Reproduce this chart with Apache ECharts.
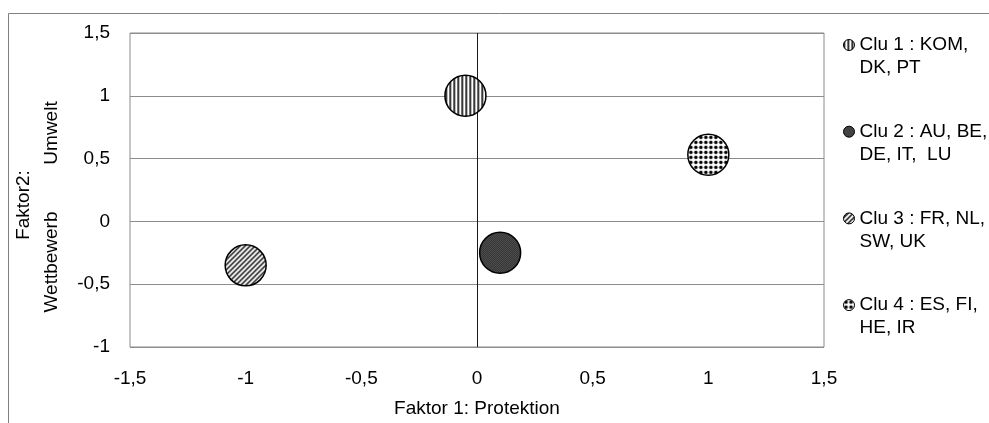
<!DOCTYPE html>
<html>
<head>
<meta charset="utf-8">
<script src="https://cdn.jsdelivr.net/npm/echarts@6/dist/echarts.min.js"></script>
<style>
html,body{margin:0;padding:0;background:#fff;}
#chart{width:989px;height:423px;}
</style>
</head>
<body>
<div id="chart"></div>
<script>
// ---- data ----
const clusterNames = ['Clu 1 : KOM,\nDK, PT', 'Clu 2 : AU, BE,\nDE, IT,  LU', 'Clu 3 : FR, NL,\nSW, UK', 'Clu 4 : ES, FI,\nHE, IR'];
const factor1 = [-0.05, 0.1, -1.0, 1.0];
const factor2 = [1.0, -0.25, -0.35, 0.53];
const xAxisTitle = 'Faktor 1: Protektion';
const yAxisTitleLine1 = 'Faktor2:';
const yAxisTitleLow = 'Wettbewerb';
const yAxisTitleHigh = 'Umwelt';

const SYMBOL_SIZE = 41;

// ---- patterns ----
function mk(w, h, draw, scale) {
  const c = document.createElement('canvas');
  c.width = w; c.height = h;
  const g = c.getContext('2d');
  draw(g, w, h);
  return { image: c, repeat: 'repeat', scaleX: scale, scaleY: scale };
}
function drawVertical(g) {
  g.fillStyle = '#fff'; g.fillRect(0, 0, 4, 4);
  g.fillStyle = '#000'; g.fillRect(0, 0, 1.6, 4);
}
function drawDark(g) {
  g.fillStyle = '#5a5a5a'; g.fillRect(0, 0, 2, 2);
  g.fillStyle = '#2a2a2a'; g.fillRect(0, 0, 1, 1); g.fillRect(1, 1, 1, 1);
}
function drawDiag(g) {
  g.fillStyle = '#fff'; g.fillRect(0, 0, 5, 5);
  g.strokeStyle = '#000'; g.lineWidth = 1.4;
  g.beginPath();
  g.moveTo(-1, 6); g.lineTo(6, -1);
  g.moveTo(-1, 1); g.lineTo(1, -1);
  g.moveTo(4, 6); g.lineTo(6, 4);
  g.stroke();
}
function drawDots(g) {
  g.fillStyle = '#fff'; g.fillRect(0, 0, 5, 5);
  g.fillStyle = '#000';
  g.beginPath(); g.arc(2.5, 2.5, 1.75, 0, Math.PI * 2); g.fill();
}
const drawers = [[drawVertical, 4], [drawDark, 2], [drawDiag, 5], [drawDots, 5]];
const symScale = 2 / SYMBOL_SIZE;
const seriesPatterns = drawers.map(([d, s]) => mk(s, s, d, symScale));
const legendPatterns = drawers.map(([d, s]) => mk(s, s, d, 1));

const FONT = 'Arial, "Liberation Sans", sans-serif';
const FS = 19;
const fmt = (v) => String(v).replace('.', ',');

const series = clusterNames.map((name, i) => {
  const s = {
    name: name,
    type: 'scatter',
    symbol: 'circle',
    symbolSize: SYMBOL_SIZE,
    data: [[factor1[i], factor2[i]]],
    itemStyle: { color: seriesPatterns[i], borderColor: '#000', borderWidth: 1.5, opacity: 1 },
    emphasis: { disabled: true },
    z: 5
  };
  if (i === 0) {
    s.markLine = {
      silent: true,
      symbol: ['none', 'none'],
      label: { show: false },
      lineStyle: { color: '#1a1a1a', width: 1, type: 'solid' },
      emphasis: { disabled: true },
      data: [{ xAxis: 0 }],
      animation: false
    };
  }
  return s;
});

const chart = echarts.init(document.getElementById('chart'), null, { renderer: 'canvas' });
chart.setOption({
  animation: false,
  backgroundColor: '#fff',
  textStyle: { fontFamily: FONT },
  grid: { left: 130, right: 165, top: 33, bottom: 74, show: true, borderColor: '#8c8c8c', borderWidth: 1, backgroundColor: 'transparent' },
  xAxis: {
    type: 'value', min: -1.5, max: 1.5, interval: 0.5,
    name: xAxisTitle, nameLocation: 'middle', nameGap: 52,
    nameTextStyle: { fontSize: FS, color: '#000', fontFamily: FONT },
    axisLine: { show: false }, axisTick: { show: false },
    splitLine: { show: false },
    axisLabel: { fontSize: FS, color: '#000', margin: 22, formatter: fmt, fontFamily: FONT }
  },
  yAxis: {
    type: 'value', min: -1, max: 1.5, interval: 0.5,
    axisLine: { show: false }, axisTick: { show: false },
    splitLine: { show: true, lineStyle: { color: '#8c8c8c', width: 1 } },
    axisLabel: { fontSize: FS, color: '#000', margin: 20, formatter: fmt, fontFamily: FONT }
  },
  legend: {
    orient: 'vertical',
    left: 843, top: 10.5, padding: 0,
    itemWidth: 11, itemHeight: 11, itemGap: 17.7, itemTextGap: 3,
    icon: 'circle',
    selectedMode: false,
    formatter: (n) => '\n' + n,
    textStyle: { fontSize: FS, lineHeight: 23, color: '#000', fontFamily: FONT },
    data: clusterNames.map((n, i) => ({ name: n, itemStyle: { color: legendPatterns[i], borderColor: '#000', borderWidth: 1 } }))
  },
  graphic: [
    { type: 'rect', silent: true, z: -10, shape: { x: 8.5, y: 13.5, width: 1100, height: 600 }, style: { fill: 'none', stroke: '#808080', lineWidth: 1 } },
    { type: 'text', silent: true, x: 24, y: 205, rotation: Math.PI / 2, style: { text: yAxisTitleLine1, font: FS + 'px ' + FONT, fill: '#000', align: 'center', verticalAlign: 'middle' } },
    { type: 'text', silent: true, x: 52, y: 262, rotation: Math.PI / 2, style: { text: yAxisTitleLow, font: FS + 'px ' + FONT, fill: '#000', align: 'center', verticalAlign: 'middle' } },
    { type: 'text', silent: true, x: 52, y: 133, rotation: Math.PI / 2, style: { text: yAxisTitleHigh, font: FS + 'px ' + FONT, fill: '#000', align: 'center', verticalAlign: 'middle' } }
  ],
  series: series
});
</script>
</body>
</html>
